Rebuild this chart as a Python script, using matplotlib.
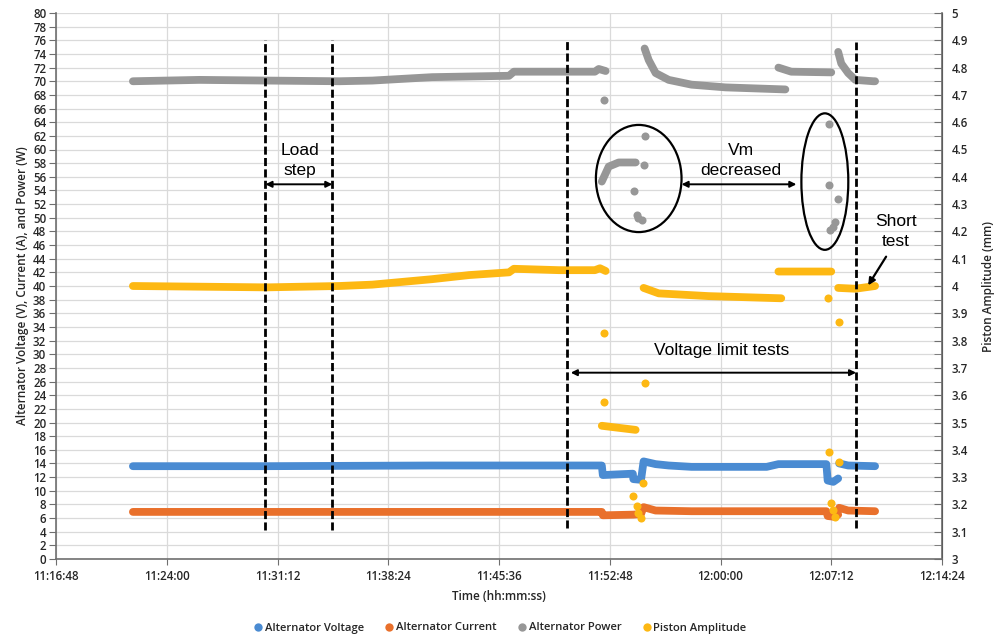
import matplotlib
matplotlib.use("Agg")
import matplotlib.pyplot as plt
import numpy as np
from matplotlib.patches import Ellipse
from matplotlib.lines import Line2D
from matplotlib.ticker import MultipleLocator

def ts(s):
    h, m, sec = map(int, s.split(':'))
    return h * 3600 + m * 60 + sec

# ---------------- data ----------------
x_ticks = ["11:16:48", "11:24:00", "11:31:12", "11:38:24", "11:45:36",
           "11:52:48", "12:00:00", "12:07:12", "12:14:24"]

# Alternator Voltage (V) - continuous traces (None = break)
volt_t = ["11:21:48", "11:30:29", "11:41:15", "11:50:47", "11:52:17", "11:52:21",
          "11:54:18", "11:54:20", "11:54:50", "11:55:00", "11:55:47", "11:56:38",
          "11:58:07", "12:03:00", "12:03:46", "12:06:53", "12:06:58", "12:07:20",
          "12:07:39", None, "12:07:43", "12:08:18", "12:10:03"]
volt_v = [13.6, 13.6, 13.7, 13.7, 13.7, 12.3,
          12.5, 11.7, 11.6, 14.3, 13.9, 13.7,
          13.5, 13.5, 13.9, 13.9, 11.5, 11.3,
          11.8, None, 14.0, 13.7, 13.6]

# Alternator Current (A)
curr_t = ["11:21:48", "11:52:17", "11:52:21", "11:54:20", "11:54:50", "11:55:00",
          "11:55:47", "11:58:07", "12:06:53", "12:06:58", "12:07:20", "12:07:39",
          None, "12:07:43", "12:08:18", "12:10:03"]
curr_v = [6.9, 6.9, 6.4, 6.5, 6.6, 7.6,
          7.1, 7.0, 7.0, 6.3, 6.2, 6.5,
          None, 7.5, 7.1, 7.0]

# Alternator Power (W)
pow_t = ["11:21:48", "11:26:08", "11:30:29", "11:35:13", "11:37:22", "11:41:15",
         "11:46:15", "11:46:34", "11:50:47", "11:51:50", "11:52:05", "11:52:32", None,
         "11:55:04", "11:55:20", "11:55:47", "11:56:38", "11:58:07", "12:00:20", "12:04:13", None,
         "12:03:46", "12:04:36", "12:07:12", None,
         "12:07:39", "12:07:51", "12:08:18", "12:08:46", "12:09:56", "12:10:03", None,
         "11:52:17", "11:52:44", "11:53:23", "11:54:29"]
pow_v = [70.0, 70.2, 70.1, 70.0, 70.1, 70.6,
         70.8, 71.4, 71.4, 71.4, 71.8, 71.5, None,
         74.8, 73.1, 71.2, 70.2, 69.5, 69.1, 68.8, None,
         72.0, 71.4, 71.3, None,
         74.3, 72.6, 71.2, 70.2, 70.0, 70.0, None,
         55.3, 57.5, 58.1, 58.1]
pow_pts_t = ["11:52:25", "11:55:04", "11:55:00", "11:54:22", "11:54:33", "11:54:53",
             "11:54:40", "12:07:04", "12:07:04", "12:07:39", "12:07:28", "12:07:08", "12:07:20"]
pow_pts_v = [67.3, 62.0, 57.7, 53.9, 50.4, 49.7,
             50.0, 63.7, 54.8, 52.8, 49.4, 48.2, 48.7]

# Piston Amplitude (mm)
pist_t = ["11:21:48", "11:30:29", "11:35:13", "11:37:22", "11:41:15", "11:43:39",
          "11:46:15", "11:46:34", "11:49:30", "11:51:50", "11:52:10", "11:52:32", None,
          "11:55:00", "11:55:59", "11:59:13", "12:03:57", None,
          "12:03:46", "12:07:12", None,
          "12:07:39", "12:08:46", "12:10:03", None,
          "11:52:17", "11:54:29"]
pist_v = [4.000, 3.995, 4.000, 4.005, 4.025, 4.040,
          4.050, 4.063, 4.058, 4.058, 4.065, 4.055, None,
          3.993, 3.973, 3.963, 3.955, None,
          4.053, 4.053, None,
          3.993, 3.990, 4.000, None,
          3.488, 3.473]
pist_pts_t = ["11:52:25", "11:55:04", "11:52:25", "12:07:00", "12:07:43", "12:07:04",
              "12:07:43", "11:54:56", "11:54:18", "11:54:33", "11:54:49", "11:54:40",
              "12:07:12", "12:07:28", "12:07:20"]
pist_pts_v = [3.828, 3.645, 3.575, 3.955, 3.868, 3.393,
              3.355, 3.280, 3.230, 3.193, 3.150, 3.170,
              3.205, 3.155, 3.180]

dash_t = ["11:30:25", "11:34:46", "11:50:01", "12:08:49"]
dash_lo = [4.2, 4.2, 4.5, 4.5]
dash_hi = [76.0, 76.0, 76.0, 75.7]

# ---------------- styling ----------------
C_V = "#4A8BD2"
C_C = "#E9702B"
C_P = "#979797"
C_A = "#FDB813"
GRID = "#DADADA"
TXT = "#262626"
TF = "Open Sans"

def conv(tl, vl):
    x = np.array([np.nan if t is None else ts(t) for t in tl], dtype=float)
    y = np.array([np.nan if v is None else v for v in vl], dtype=float)
    return x, y

fig = plt.figure(figsize=(9.95, 6.37), dpi=100)
ax = fig.add_axes([56 / 995, 78 / 637, (942 - 56) / 995, (559 - 13) / 637])
ax2 = ax.twinx()

LW = 5.6
MS = 5.8
kw = dict(solid_capstyle="round", solid_joinstyle="round")

x, y = conv(volt_t, volt_v)
ax.plot(x, y, color=C_V, lw=LW, **kw, zorder=3)
x, y = conv(curr_t, curr_v)
ax.plot(x, y, color=C_C, lw=LW, **kw, zorder=3)
x, y = conv(pow_t, pow_v)
ax.plot(x, y, color=C_P, lw=LW, **kw, zorder=3)
x, y = conv(pow_pts_t, pow_pts_v)
ax.plot(x, y, 'o', color=C_P, ms=MS, mec='none', zorder=3)

x, y = conv(pist_t, pist_v)
ax2.plot(x, y, color=C_A, lw=LW, **kw, zorder=3)
x, y = conv(pist_pts_t, pist_pts_v)
ax2.plot(x, y, 'o', color=C_A, ms=MS, mec='none', zorder=3)

# axes
xt = [ts(t) for t in x_ticks]
ax.set_xlim(xt[0], xt[-1])
ax.set_xticks(xt)
ax.set_xticklabels(x_ticks)
ax.set_ylim(0, 80)
ax.yaxis.set_major_locator(MultipleLocator(2))
ax2.set_ylim(3, 5)
ax2.yaxis.set_major_locator(MultipleLocator(0.1))
ax2.yaxis.set_minor_locator(MultipleLocator(0.05))
ax2.set_yticks(ax2.get_yticks())
ax2.set_yticklabels([("%.1f" % v).rstrip('0').rstrip('.') for v in ax2.get_yticks()])
ax2.set_ylim(3, 5)

ax.grid(True, color=GRID, lw=0.9)
ax.set_axisbelow(True)
for a in (ax, ax2):
    a.spines['top'].set_visible(False)
ax.spines['left'].set_color('#6f6f6f')
ax.spines['bottom'].set_color('#6f6f6f')
ax2.spines['right'].set_color('#6f6f6f')
ax2.spines['left'].set_visible(False)
ax2.spines['bottom'].set_visible(False)
ax.spines['left'].set_linewidth(1.2)
ax.spines['bottom'].set_linewidth(1.2)
ax2.spines['right'].set_linewidth(1.2)

ax.tick_params(axis='y', which='major', length=5, color='#6f6f6f', labelsize=8.3,
               labelcolor=TXT, pad=2)
ax.tick_params(axis='x', which='major', length=4, color='#6f6f6f', labelsize=8.3,
               labelcolor=TXT, pad=4)
ax2.tick_params(axis='y', which='both', direction='in', length=6, color='#6f6f6f',
                labelsize=8.3, labelcolor=TXT, pad=7)
for lab in ax.get_xticklabels() + ax.get_yticklabels() + ax2.get_yticklabels():
    lab.set_fontfamily(TF)
    lab.set_fontweight('semibold')

lab_kw = dict(fontsize=8.5, color=TXT, family=TF, fontweight='semibold')
ax.set_xlabel("Time (hh:mm:ss)", labelpad=5, **lab_kw)
ax.set_ylabel("Alternator Voltage (V), Current (A), and Power (W)", labelpad=3, **lab_kw)
ax2.set_ylabel("Piston Amplitude (mm)", labelpad=10, **lab_kw)

# annotations (drawn on top axes using left-axis data coords)
T = ax.transData
for t, lo, hi in zip(dash_t, dash_lo, dash_hi):
    ax2.plot([ts(t), ts(t)], [lo, hi], transform=T, color='black', lw=2.0,
             linestyle=(0, (2.9, 1.2)), zorder=6)

afont = dict(family="Liberation Sans", size=12.5, color='black', ha='center', va='center',
             linespacing=1.35, zorder=7, transform=T)
ax2.text(ts("11:32:38"), 58.4, "Load\nstep", **afont)
ax2.text(ts("12:01:18"), 58.4, "Vm\ndecreased", **afont)
ax2.text(ts("12:11:25"), 48.0, "Short\ntest", **afont)
ax2.text(ts("12:00:04"), 30.6, "Voltage limit tests", **afont)

arr = dict(arrowstyle='<|-|>', color='black', lw=1.4, mutation_scale=9, shrinkA=0, shrinkB=0)
ax2.annotate("", xy=(ts("11:30:25"), 54.9), xytext=(ts("11:34:46"), 54.9),
             xycoords=T, textcoords=T, arrowprops=arr, zorder=7)
ax2.annotate("", xy=(ts("11:57:28"), 54.9), xytext=(ts("12:04:56"), 54.9),
             xycoords=T, textcoords=T, arrowprops=arr, zorder=7)
ax2.annotate("", xy=(ts("11:50:16"), 27.3), xytext=(ts("12:08:49"), 27.3),
             xycoords=T, textcoords=T, arrowprops=arr, zorder=7)
ax2.annotate("", xy=(ts("12:09:36"), 40.1), xytext=(ts("12:10:46"), 44.3),
             xycoords=T, textcoords=T,
             arrowprops=dict(arrowstyle='-|>', color='black', lw=1.6, mutation_scale=10,
                             shrinkA=0, shrinkB=0), zorder=7)

ax2.add_patch(Ellipse((ts("11:54:41"), 55.75), 334, 15.7, transform=T,
                      fill=False, ec='black', lw=1.6, zorder=7))
ax2.add_patch(Ellipse((ts("12:06:47"), 55.3), 183, 20.0, transform=T,
                      fill=False, ec='black', lw=1.6, zorder=7))

# legend
handles = [Line2D([], [], marker='o', ls='none', color=c, ms=6, mec='none')
           for c in (C_V, C_C, C_P, C_A)]
labels = ["Alternator Voltage", "Alternator Current", "Alternator Power", "Piston Amplitude"]
fig.legend(handles, labels, loc='center', bbox_to_anchor=(0.502, 1 - 628 / 637), ncol=4,
           frameon=False, handletextpad=0.1, columnspacing=1.75,
           handlelength=1.0, labelcolor=TXT,
           prop=dict(family=TF, size=8.1, weight='semibold'))

fig.savefig("out.png", dpi=100)
